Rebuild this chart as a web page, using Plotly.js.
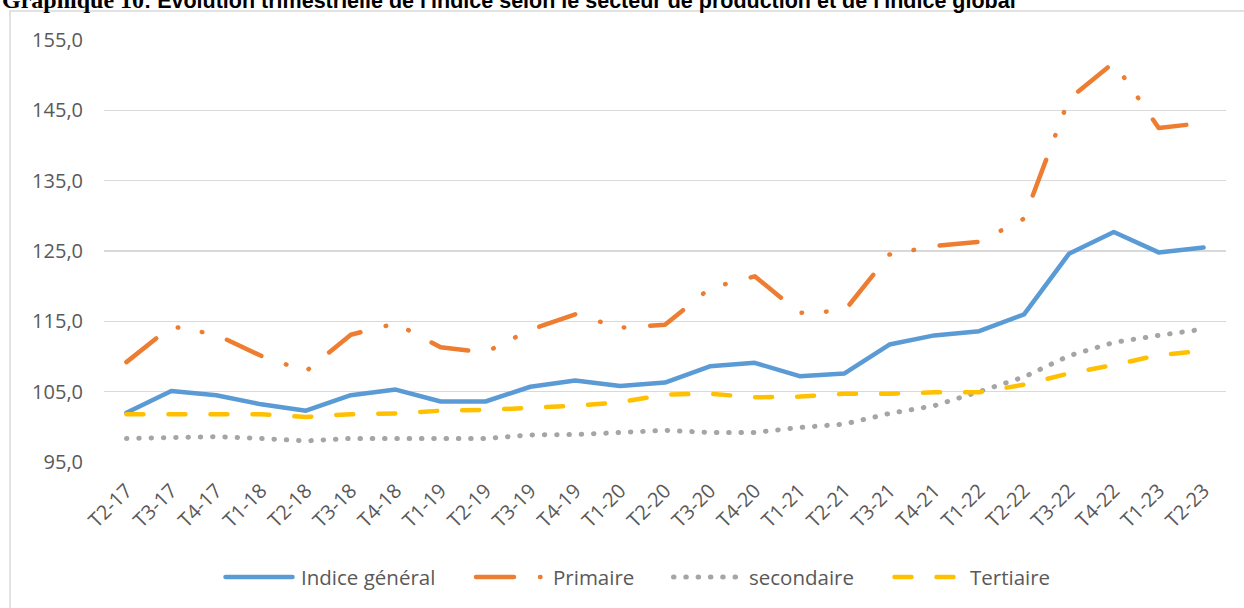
<!DOCTYPE html>
<html>
<head>
<meta charset="utf-8">
<script src="https://cdn.plot.ly/plotly-3.0.1.min.js"></script>
<style>
  html, body { margin: 0; padding: 0; background: #ffffff; overflow: hidden; }
  #chart { width: 1244px; height: 608px; }
</style>
</head>
<body>
<div id="chart"></div>
<script>
// ---- Data ----
const categories = ["T2-17","T3-17","T4-17","T1-18","T2-18","T3-18","T4-18","T1-19","T2-19","T3-19",
  "T4-19","T1-20","T2-20","T3-20","T4-20","T1-21","T2-21","T3-21","T4-21","T1-22",
  "T2-22","T3-22","T4-22","T1-23","T2-23"];
const indiceGeneral = [102.0, 105.1, 104.5, 103.2, 102.3, 104.5, 105.3, 103.6, 103.6, 105.7,
  106.6, 105.8, 106.3, 108.6, 109.1, 107.2, 107.6, 111.7, 113.0, 113.6,
  116.0, 124.6, 127.7, 124.8, 125.5];
const primaire = [109.2, 114.3, 113.1, 110.1, 107.9, 113.1, 114.7, 111.3, 110.6, 113.8,
  116.0, 114.1, 114.5, 119.7, 121.4, 116.2, 116.5, 124.5, 125.7, 126.3,
  129.6, 146.6, 151.8, 142.5, 143.2];
const secondaire = [98.35, 98.45, 98.6, 98.35, 98.0, 98.35, 98.35, 98.35, 98.35, 98.85,
  98.9, 99.2, 99.5, 99.2, 99.2, 99.9, 100.4, 101.9, 103.0, 105.0,
  107.1, 110.1, 112.0, 113.0, 113.9];
const tertiaire = [101.8, 101.8, 101.8, 101.8, 101.4, 101.8, 101.9, 102.3, 102.4, 102.7,
  103.0, 103.5, 104.6, 104.7, 104.2, 104.3, 104.7, 104.7, 104.9, 104.9,
  106.0, 107.6, 108.8, 110.2, 110.8];
const seriesNames = ["Indice général", "Primaire", "secondaire", "Tertiaire"];
const yTicks = [95, 105, 115, 125, 135, 145, 155];
const titleLead = "Graphique 10";
const titleRest = ": Évolution trimestrielle de l'indice selon le secteur de production et de l'indice global";

// ---- Styles ----
const colors = ["#5B9BD5", "#ED7D31", "#A5A5A5", "#FFC000"];
const dashes = ["solid", "38px,26px,0.5px,24px,0.5px,26px", "0.5px,11.8px", "17px,25px"];
const widths = [4.5, 4.5, 5, 4.5];
const FONT = "'Open Sans', sans-serif";
const TXT = "#595959";

// plot-area pixel geometry helpers (for non-data decorations)
const X0 = 104, W = 1122, Y0 = 462, H = 422;
const px = X => (X - X0) / W;
const py = Y => (Y0 - Y) / H;

const allSeries = [indiceGeneral, primaire, secondaire, tertiaire];
const traces = allSeries.map((vals, i) => ({
  type: "scatter", mode: "lines", x: categories, y: vals, name: seriesNames[i],
  line: { color: colors[i], width: widths[i], dash: dashes[i], shape: "linear" },
  showlegend: false, hoverinfo: "skip"
}));

// custom legend (samples are long like the original)
const legendY = py(577);
const legendItems = [
  { x0: 225.5, x1: 292.5, tx: 299 },
  { x0: 476, x1: 541, tx: 551 },
  { x0: 673.5, x1: 736, tx: 747 },
  { x0: 894.5, x1: 954, tx: 968 }
];
const shapes = [
  { type: "rect", xref: "paper", yref: "paper", x0: px(10), x1: px(1260), y0: py(640), y1: py(11),
    line: { color: "#D9D9D9", width: 1.5 }, fillcolor: "rgba(0,0,0,0)", layer: "below" }
];
const annotations = [
  { xref: "paper", yref: "paper", x: px(0), y: py(-0.5), xanchor: "left", yanchor: "middle", showarrow: false,
    text: "<b><span style=\"font-family:'Liberation Serif';font-size:24px\">" + titleLead + "</span>" + titleRest + "</b>",
    font: { family: "'Liberation Sans Narrow', 'Arial Narrow', sans-serif", size: 21.5, color: "#000000" } }
];
legendItems.forEach((it, i) => {
  shapes.push({ type: "line", xref: "paper", yref: "paper", x0: px(it.x0), x1: px(it.x1), y0: legendY, y1: legendY,
    line: { color: colors[i], width: widths[i], dash: dashes[i] } });
  annotations.push({ xref: "paper", yref: "paper", x: px(it.tx), y: legendY, xanchor: "left", yanchor: "middle",
    showarrow: false, text: seriesNames[i], font: { family: FONT, size: 20.5, color: TXT } });
});

const layout = {
  width: 1244, height: 608,
  margin: { l: X0, r: 1244 - X0 - W, t: Y0 - H, b: 608 - Y0, pad: 0 },
  paper_bgcolor: "#ffffff", plot_bgcolor: "rgba(0,0,0,0)",
  separators: ", ",
  showlegend: false,
  font: { family: FONT, size: 20, color: TXT },
  xaxis: {
    type: "category", range: [-0.5, categories.length - 0.5], tickangle: -45,
    showgrid: false, zeroline: false, showline: false, ticks: "",
    ticklabelstandoff: 12,
    tickfont: { family: FONT, size: 20, color: TXT }, fixedrange: true
  },
  yaxis: {
    range: [95, 155], tickvals: yTicks, tickformat: ".1f",
    showgrid: true, gridcolor: "#D9D9D9", gridwidth: 1.5, zeroline: false, showline: false, ticks: "",
    ticklabelstandoff: 20,
    tickfont: { family: FONT, size: 20, color: TXT }, fixedrange: true
  },
  shapes: shapes,
  annotations: annotations
};

Plotly.newPlot("chart", traces, layout, { staticPlot: true, displayModeBar: false }).then(() => {
  document.querySelectorAll(".scatterlayer path.js-line, .shapelayer path").forEach(p => {
    p.style.strokeLinecap = "round";
    p.style.strokeLinejoin = "round";
  });
  const rect = document.querySelector(".shapelayer path");
  if (rect) { rect.style.strokeLinecap = "butt"; rect.style.strokeLinejoin = "miter"; }
});
</script>
</body>
</html>
